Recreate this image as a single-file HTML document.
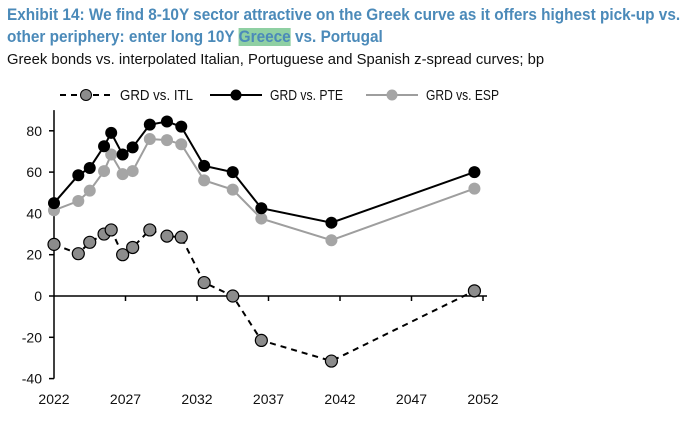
<!DOCTYPE html>
<html><head><meta charset="utf-8"><style>
body{margin:0;background:#fff;width:698px;height:432px;overflow:hidden;font-family:"Liberation Sans",sans-serif}
.t{position:absolute;left:7px;font-weight:bold;font-size:16.5px;color:#4b8ab9;white-space:nowrap;transform:scaleX(0.93);transform-origin:0 0}
.s{position:absolute;left:7px;top:52px;font-size:14.8px;color:#111;white-space:nowrap}
.hl{background:#8fd0a3;color:#4b8ab9}
</style></head><body>
<div class="t" style="top:6px">Exhibit 14: We find 8-10Y sector attractive on the Greek curve as it offers highest pick-up vs.</div>
<div class="t" style="top:28px">other periphery: enter long 10Y <span class="hl">Greece</span> vs. Portugal</div>
<div class="s">Greek bonds vs. interpolated Italian, Portuguese and Spanish z-spread curves; bp</div>
<svg id="c" width="698" height="432" style="position:absolute;left:0;top:0"></svg>
<script>
const years=[2022.0,2023.7,2024.5,2025.5,2026.0,2026.8,2027.5,2028.7,2029.9,2030.9,2032.5,2034.5,2036.5,2041.4,2051.4];
const itl=[25,20.5,26,30,32,20,23.5,32,29,28.5,6.5,0,-21.5,-31.5,2.5];
const pte=[45,58.5,62,72.5,79,68.5,72,83,84.5,82,63,60,42.5,35.5,60];
const esp=[41.5,46,51,60.5,68.5,59,60.5,76,75.5,73.5,56,51.5,37.5,27,52];
const yTicks=[80,60,40,20,0,-20,-40];
const xTicks=[2022,2027,2032,2037,2042,2047,2052];
const svg=document.getElementById('c');const NS='http://www.w3.org/2000/svg';
const X=v=>54+(v-2022)*14.3;const Y=v=>296-v*2.065;
function mk(t,a,p){const e=document.createElementNS(NS,t);for(const k in a)e.setAttribute(k,a[k]);(p||svg).appendChild(e);return e;}
let ya=mk('line',{x1:54,y1:Y(90),x2:54,y2:Y(-40),stroke:'#000','stroke-width':1.5});


let xa=mk('line',{x1:54,y1:Y(0),x2:487,y2:Y(0),stroke:'#000','stroke-width':1.5});


yTicks.forEach(v=>{mk('line',{x1:49,y1:Y(v),x2:54,y2:Y(v),stroke:'#000','stroke-width':1.5});
let t=mk('text',{x:42,y:Y(v)+5,'text-anchor':'end','font-size':14,fill:'#111'});t.textContent=v;

});
xTicks.forEach(v=>{if(v>2022)mk('line',{x1:X(v),y1:Y(0),x2:X(v),y2:Y(0)+5,stroke:'#000','stroke-width':1.5});
let t=mk('text',{x:X(v),y:404,'text-anchor':'middle','font-size':14,fill:'#111'});t.textContent=v;

});
function series(vals,name,stroke,fill,dash){
 const g=mk('g',{});
 
 
 mk('polyline',{points:vals.map((v,i)=>X(years[i])+','+Y(v)).join(' '),fill:'none',stroke:stroke,'stroke-width':2,'stroke-dasharray':dash||'none'},g);
 vals.forEach((v,i)=>{const c=mk('circle',{cx:X(years[i]),cy:Y(v),r:6,fill:fill,stroke:dash?'#000':fill,'stroke-width':dash?1.2:0},g);
 
 });
}
series(esp,'series-esp','#9e9e9e','#a5a5a5');
series(pte,'series-pte','#000','#000');
series(itl,'series-itl','#000','#8c8c8c','6,5');
function leg(x,label,stroke,fill,dash,name){const g=mk('g',{});
 
 
 mk('line',{x1:x,y1:95,x2:x+52,y2:95,stroke:stroke,'stroke-width':2,'stroke-dasharray':dash||'none'},g);
 mk('circle',{cx:x+26,cy:95,r:dash?5.5:5,fill:fill,stroke:dash?'#000':fill,'stroke-width':1},g);
 const t=mk('text',{x:x+60,y:100,'font-size':14.5,fill:'#111',textLength:73,lengthAdjust:'spacingAndGlyphs'},g);t.textContent=label;}
leg(60,'GRD vs. ITL','#000','#8c8c8c','6,5','legend-itl');
leg(210,'GRD vs. PTE','#000','#000',null,'legend-pte');
leg(366,'GRD vs. ESP','#9e9e9e','#a5a5a5',null,'legend-esp');
</script>
</body></html>
